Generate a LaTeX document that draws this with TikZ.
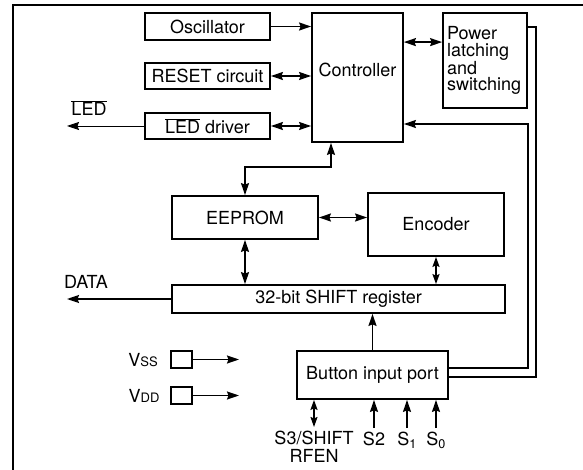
\documentclass[tikz,border=0pt]{standalone}
\usepackage{fontspec}
\setmainfont{TeX Gyre Heros}
\usetikzlibrary{arrows.meta,positioning,calc}

\begin{document}
\begin{tikzpicture}[x=1pt,y=-1pt,
        blk/.style={draw,line width=1.8pt,inner sep=0pt,
                    font=\fontsize{18}{16.5}\selectfont},
        padbox/.style={draw,line width=1.5pt,minimum width=21pt,
                       minimum height=17pt,inner sep=0pt},
        lbl/.style={inner sep=0pt,font=\fontsize{18}{18}\selectfont},
        conn/.style={line width=1.5pt},
        arr/.style={conn,-{Stealth[length=12pt,width=8pt,inset=1.5pt]}},
        dbl/.style={conn,{Stealth[length=12pt,width=8pt,inset=1.5pt]}-{Stealth[length=12pt,width=8pt,inset=1.5pt]}},
        sdbl/.style={conn,{Stealth[length=10pt,width=7pt,inset=1.5pt]}-{Stealth[length=10pt,width=7pt,inset=1.5pt]}}
      ]
        \useasboundingbox (0,0) rectangle (583,470);
        \draw[line width=2pt] (13,470) -- (13,5) -- (583,5);
        % blocks
        \node[blk,minimum width=125pt,minimum height=27pt] (osc) at (207.5,26.5) {Oscillator};
        \node[blk,minimum width=125pt,minimum height=26pt] (reset) at (207.5,76) {RESET circuit};
        \node[blk,minimum width=125pt,minimum height=26pt] (leddrv) at (207.5,126)
          {$\overline{\mbox{LED}}$ driver};
        \node[blk,minimum width=91pt,minimum height=129pt,text depth=15pt] (ctrl) at (357.5,77.5) {Controller};
        \node[blk,minimum width=84pt,minimum height=95pt,text width=76pt,align=left] (pwr) at (485,60.5)
          {Power\\latching\\and\\switching};
        \node[blk,minimum width=146pt,minimum height=43pt] (eeprom) at (245,217.5) {EEPROM};
        \node[blk,minimum width=136pt,minimum height=63pt] (enc) at (436,224.5) {Encoder};
        \node[blk,minimum width=333pt,minimum height=28pt] (shift) at (338.5,299) {32-bit SHIFT register};
        \node[blk,minimum width=151pt,minimum height=48pt] (btn) at (372.5,375) {Button input port};
        \node[padbox] (vss) at (181.5,359.5) {};
        \node[padbox] (vdd) at (181.5,395.5) {};
        % labels
        \node[lbl] (ledlbl) at (89,108) {$\overline{\mbox{LED}}$};
        \node[lbl] (datalbl) at (86,282) {DATA};
        \node[lbl] (vsslbl) at (143,360) {V{\fontsize{13}{13}\selectfont SS}};
        \node[lbl] (vddlbl) at (144,396) {V{\fontsize{13}{13}\selectfont DD}};
        \node[lbl,align=center] (s3lbl) at (314,447) {S3/SHIFT\\RFEN};
        \node[lbl] (s2lbl) at (374,439) {S2};
        \node[lbl] (s1lbl) at (407,440) {S\textsubscript{1}};
        \node[lbl] (s0lbl) at (436,440) {S\textsubscript{0}};
        % free ends and bends
        \coordinate (ledout) at (67,126);
        \coordinate (dataout) at (67,299);
        \coordinate (vssout) at (239,359.5);
        \coordinate (vddout) at (239,395.5);
        \coordinate (cp) at ([yshift=-30pt]ctrl.north east);
        \coordinate (ce) at (331,167);
        \coordinate (fb) at (528,124);
        \coordinate (pl) at (536,27);
        \coordinate (s3) at (314,427);
        \coordinate (s2) at (374,428);
        \coordinate (s1) at (407,428);
        \coordinate (s0) at (436,428);
        % connectors
        \draw[arr] (osc.east) -- (osc.east -| ctrl.west);
        \draw[dbl] (reset.east) -- (reset.east -| ctrl.west);
        \draw[dbl] (leddrv.east) -- (leddrv.east -| ctrl.west);
        \draw[arr,line width=0.8pt] (leddrv.west) -- (ledout);
        \draw[dbl] (cp) -- (cp -| pwr.west);
        \draw[dbl] (eeprom.north) |- (ce) -- (ce |- ctrl.south);
        \draw[dbl] (eeprom.east) -- (eeprom.east -| enc.west);
        \draw[dbl] (eeprom.south) -- (eeprom.south |- shift.north);
        \draw[sdbl] (enc.south) -- (enc.south |- shift.north);
        \draw[arr] (shift.west) -- (dataout);
        \draw[arr] (btn.north) -- (btn.north |- shift.south);
        \draw[arr] ([yshift=7pt]btn.east) -| (fb) -- (fb -| ctrl.east);
        \draw[conn] ([yshift=-2pt]btn.east) -| (pl) -- (pl -| pwr.east);
        \draw[arr] (vss.east) -- (vssout);
        \draw[arr] (vdd.east) -- (vddout);
        \draw[sdbl] (s3) -- (s3 |- btn.south);
        \draw[arr] (s2) -- (s2 |- btn.south);
        \draw[arr] (s1) -- (s1 |- btn.south);
        \draw[arr] (s0) -- (s0 |- btn.south);
      \end{tikzpicture}
\end{document}
